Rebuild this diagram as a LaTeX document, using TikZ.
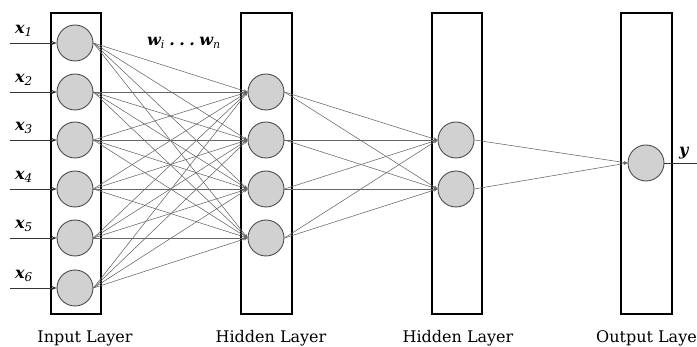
\documentclass[tikz,border=0pt]{standalone}
\usepackage{fontspec}
\setmainfont{DejaVu Serif}
\usetikzlibrary{arrows.meta}
\begin{document}
\begin{tikzpicture}[x=1pt,y=-1pt,
  layerbox/.style={draw=black,line width=1.8pt},
  neuron/.style={circle,draw=black!70,line width=0.9pt,fill=black!18,minimum size=36pt,inner sep=0pt},
  link/.style={draw=black!60,line width=0.55pt,-{Stealth[length=4pt,width=3pt]}},
  inlink/.style={draw=black!80,line width=0.7pt,-{Stealth[length=5pt,width=4pt]}},
  varlabel/.style={font=\fontsize{16}{16}\selectfont\bfseries\itshape,anchor=base west,inner sep=0pt},
  layerlabel/.style={font=\fontsize{16}{16}\selectfont,anchor=base,inner sep=0pt}]
\useasboundingbox (0,0) rectangle (697,347);

% layer frames
\draw[layerbox] (51,13) rectangle (101,314);
\draw[layerbox] (241,13) rectangle (292,314);
\draw[layerbox] (432,13) rectangle (482,314);
\draw[layerbox] (621,13) rectangle (672,314);

% input neurons
\foreach \i/\y in {1/43,2/92,3/140,4/189,5/238,6/288}{
  \node[neuron] (i\i) at (75,\y) {};
  \coordinate (s\i) at (10,\y);
  \draw[inlink] (s\i) -- (i\i.west);
  \node[varlabel] (lx\i) at (15,\y-9) {x\textsubscript{\itshape\mdseries\fontsize{12}{12}\selectfont\i}};
}

% first hidden layer
\foreach \j/\y in {1/92,2/140,3/189,4/238}{
  \node[neuron] (h\j) at (266,\y) {};
}

% second hidden layer
\node[neuron] (g1) at (456,140) {};
\node[neuron] (g2) at (456,189) {};

% output neuron
\node[neuron] (o) at (646,163) {};
\coordinate (oend) at (697,163);

% weights
\foreach \i in {1,...,6}{
  \foreach \j in {1,...,4}{
    \draw[link] (i\i.east) -- (h\j.west);
  }
}
\foreach \j in {1,...,4}{
  \foreach \k in {1,2}{
    \draw[link] (h\j.east) -- (g\k.west);
  }
}
\foreach \k in {1,2}{
  \draw[link] (g\k.east) -- (o.west);
}
\draw[draw=black!80,line width=0.7pt] (o.east) -- (oend);

% labels
\node[varlabel] (wlab) at (147,46) {w\textsubscript{\fontsize{11}{11}\selectfont\mdseries\itshape i}\;.\;.\;.\;w\textsubscript{\fontsize{11}{11}\selectfont\mdseries\itshape n}};
\node[varlabel] (ylab) at (679,156) {y};

\node[layerlabel] (l1) at (85,343) {Input Layer};
\node[layerlabel] (l2) at (271,343) {Hidden Layer};
\node[layerlabel] (l3) at (458,343) {Hidden Layer};
\node[layerlabel,anchor=base east] (l4) at (697,343) {Output Laye};
\end{tikzpicture}
\end{document}
